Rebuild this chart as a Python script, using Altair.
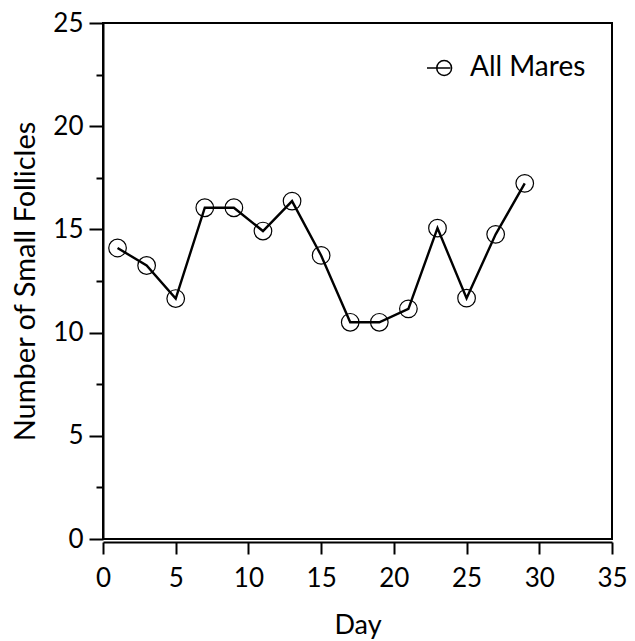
import altair as alt
import pandas as pd

# Mean count of small follicles per scanning day
days = [1, 3, 5, 7, 9, 11, 13, 15, 17, 19, 21, 23, 25, 27, 29]
small_follicles = [14.1, 13.25, 11.65, 16.05, 16.05, 14.92, 16.37, 13.74,
                   10.5, 10.5, 11.15, 15.06, 11.67, 14.76, 17.23]
group = ["All Mares"] * len(days)

x_ticks = [0, 5, 10, 15, 20, 25, 30, 35]
y_major = [0, 5, 10, 15, 20, 25]
y_minor = [2.5, 7.5, 12.5, 17.5, 22.5]

df = pd.DataFrame({"day": days, "count": small_follicles, "group": group})

FONT = "Lato"
x_scale = alt.Scale(domain=[0, 35], nice=False, zero=False)
y_scale = alt.Scale(domain=[0, 25], nice=False)

x_axis = alt.Axis(
    values=x_ticks, offset=3, tickSize=12, tickWidth=2, tickColor="black",
    domainWidth=2, domainColor="black", labelFlush=False, labelPadding=11,
    labelFontSize=26, labelColor="black", labelFont=FONT,
    title="Day", titleFontSize=27, titleFontWeight="normal", titleFont=FONT,
    titleColor="black", titlePadding=21, grid=False,
)

y_axis_major = alt.Axis(
    orient="left", values=y_major, tickSize=14, tickWidth=2, tickColor="black",
    domainWidth=2, domainColor="black", labelPadding=6,
    labelFontSize=26, labelColor="black", labelFont=FONT,
    title="Number of Small Follicles", titleFontSize=29,
    titleFontWeight="normal", titleFont=FONT, titleColor="black",
    titlePadding=12, grid=False,
)

y_axis_minor = alt.Axis(
    orient="left", values=y_minor, tickSize=7, tickWidth=2, tickColor="black",
    domain=False, labels=False, title=None, grid=False,
)

# circle with a stroke through it, in the -1..1 symbol box
legend_glyph = ("M -1 0 L 0.95 0 "
                "M 1.05 0 A 0.62 0.62 0 1 1 -0.19 0 A 0.62 0.62 0 1 1 1.05 0")

base = alt.Chart(df)

line = base.mark_line(color="black", strokeWidth=2.4).encode(
    x=alt.X("day:Q", scale=x_scale, axis=x_axis),
    y=alt.Y("count:Q", scale=y_scale, axis=y_axis_major),
)

points = base.mark_point(shape="circle", filled=False, size=310,
                         strokeWidth=1.2, opacity=1).encode(
    x=alt.X("day:Q", scale=x_scale, axis=x_axis),
    y=alt.Y("count:Q", scale=y_scale, axis=y_axis_minor),
    color=alt.Color(
        "group:N",
        scale=alt.Scale(range=["black"]),
        legend=alt.Legend(
            orient="none", legendX=322, legendY=31, padding=0, title=None,
            symbolType=legend_glyph, symbolSize=576, symbolStrokeWidth=1.5,
            symbolFillColor="transparent", labelFontSize=28, labelFont=FONT,
            labelColor="black", labelOffset=17,
        ),
    ),
)

chart = (
    alt.layer(line, points)
    .resolve_axis(y="independent")
    .properties(
        width=509, height=516,
        autosize=alt.AutoSizeParams(type="none"),
        padding={"left": 103, "top": 23, "right": 23, "bottom": 102},
        background="white",
    )
    .configure_view(stroke="black", strokeWidth=2)
)

chart.save("out.html", embed_options={"renderer": "svg", "actions": False})
